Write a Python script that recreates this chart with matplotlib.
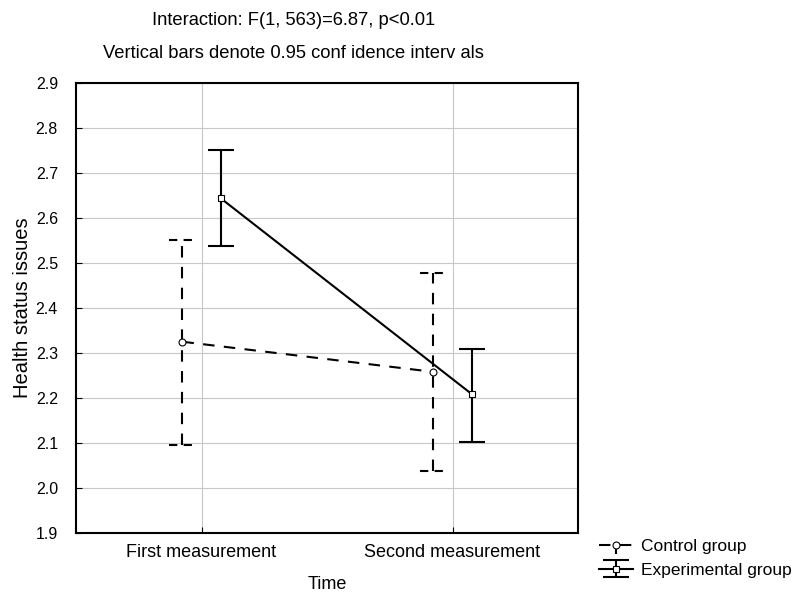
import numpy as np
import matplotlib.pyplot as plt

plt.rcParams['font.family'] = ['Liberation Sans', 'DejaVu Sans']

# datos
momentos = ['First measurement', 'Second measurement']
control_media = [2.325, 2.258]
control_sup = [2.55, 2.477]
control_inf = [2.096, 2.038]
exp_media = [2.644, 2.209]
exp_sup = [2.75, 2.308]
exp_inf = [2.538, 2.102]

x = np.arange(len(momentos))
desp = 0.076
ancho_cap = 0.052

fig = plt.figure(figsize=(8.02, 5.94), dpi=100)
ax = fig.add_axes([0.0948, 0.1027, 0.6259, 0.7576])

err_c = [np.array(control_media) - np.array(control_inf), np.array(control_sup) - np.array(control_media)]
err_e = [np.array(exp_media) - np.array(exp_inf), np.array(exp_sup) - np.array(exp_media)]

guion = (0, (5.5, 4.5))
ec = ax.errorbar(x - desp, control_media, yerr=err_c, color='black', lw=1.5, ls=guion,
                 marker='o', ms=5, mfc='white', mec='black', mew=0.8,
                 capsize=0, label='Control group', zorder=3)
ec[2][0].set_linestyle(guion)
# tapas punteadas del grupo control
ax.hlines(control_sup, x - desp - ancho_cap, x - desp + ancho_cap, colors='black', lw=1.5, linestyles=(0, (4, 3)))
ax.hlines(control_inf, x - desp - ancho_cap, x - desp + ancho_cap, colors='black', lw=1.5, linestyles=(0, (4, 3)))

ee = ax.errorbar(x + desp, exp_media, yerr=err_e, color='black', lw=1.5, ls='-',
                 marker='s', ms=5, mfc='white', mec='black', mew=0.8,
                 capsize=9.4, label='Experimental group', zorder=3)
for c in ee[1]:
    c.set_markeredgewidth(1.5)
    c.set_markersize(18.8)

ax.set_xlim(-0.5, 1.5)
ax.set_ylim(1.9, 2.9)
ax.set_xticks(x)
ax.set_xticklabels(momentos, fontsize=13)
ax.set_yticks(np.arange(1.9, 2.91, 0.1))
ax.set_yticklabels(['%.1f' % v for v in np.arange(1.9, 2.91, 0.1)], fontsize=11.5)
ax.tick_params(direction='in', length=4, width=0.8, color='black')
ax.tick_params(axis='x', pad=8)
ax.tick_params(axis='y', pad=13)
ax.grid(True, color='#c8c8c8', lw=0.8)
ax.set_axisbelow(True)
for s in ax.spines.values():
    s.set_linewidth(1.5)

ax.set_xlabel('Time', fontsize=13, labelpad=11)
ax.set_ylabel('Health status issues', fontsize=14.5, labelpad=3)

fig.text(0.366, 0.965, 'Interaction: F(1, 563)=6.87, p<0.01', ha='center', va='center', fontsize=13.2)
fig.text(0.366, 0.910, 'Vertical bars denote 0.95 conf idence interv als', ha='center', va='center', fontsize=13.2)

ax.legend(loc='center left', bbox_to_anchor=(0.727, 0.060), bbox_transform=fig.transFigure,
          frameon=False, fontsize=12.5, handlelength=2.0, handletextpad=0.45, labelspacing=0.5)

fig.savefig('out.png', dpi=100)
